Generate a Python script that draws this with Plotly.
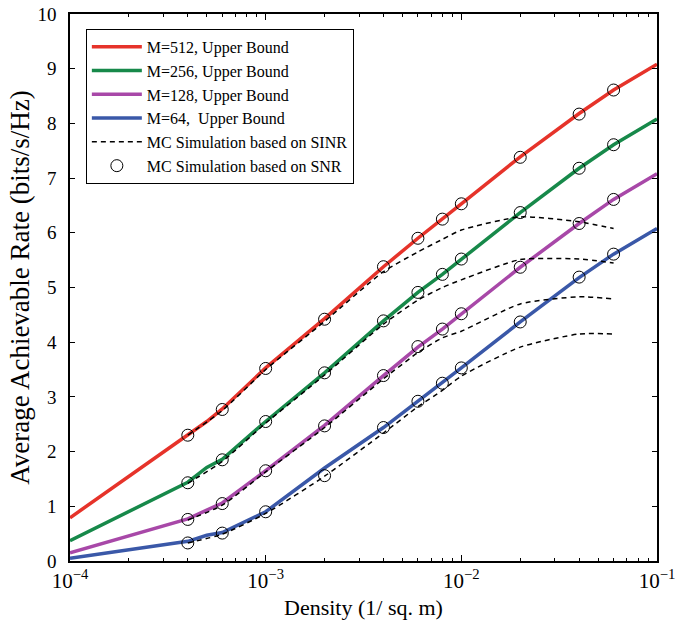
import plotly.graph_objects as go

# Upper-bound curves
x_ub = [1e-4, 4e-4, 5e-4, 6e-4, 1e-3, 2e-3, 4e-3, 6e-3, 8e-3, 1e-2, 2e-2, 4e-2, 6e-2, 1e-1]
ub_512 = [0.79, 2.30, 2.55, 2.78, 3.53, 4.43, 5.38, 5.90, 6.25, 6.53, 7.39, 8.18, 8.61, 9.08]
ub_256 = [0.37, 1.44, 1.71, 1.86, 2.55, 3.44, 4.39, 4.91, 5.24, 5.52, 6.37, 7.18, 7.61, 8.08]
ub_128 = [0.15, 0.77, 0.93, 1.06, 1.65, 2.48, 3.39, 3.91, 4.24, 4.52, 5.37, 6.17, 6.61, 7.08]
ub_64 = [0.05, 0.36, 0.47, 0.52, 0.90, 1.70, 2.44, 2.92, 3.25, 3.53, 4.37, 5.18, 5.61, 6.08]

# Monte-Carlo densities
x_mc = [4e-4, 6e-4, 1e-3, 2e-3, 4e-3, 6e-3, 8e-3, 1e-2, 2e-2, 4e-2, 6e-2]
# MC based on SNR (circles)
snr_512 = [2.30, 2.77, 3.52, 4.42, 5.38, 5.90, 6.25, 6.53, 7.38, 8.17, 8.61]
snr_256 = [1.43, 1.85, 2.55, 3.44, 4.39, 4.91, 5.24, 5.52, 6.37, 7.18, 7.61]
snr_128 = [0.76, 1.05, 1.65, 2.47, 3.39, 3.92, 4.24, 4.52, 5.37, 6.17, 6.61]
snr_64 = [0.33, 0.51, 0.90, 1.56, 2.44, 2.92, 3.25, 3.53, 4.37, 5.19, 5.61]
# MC based on SINR (dashed)
sinr_512 = [2.30, 2.75, 3.50, 4.38, 5.29, 5.65, 5.88, 6.05, 6.29, 6.20, 6.08]
sinr_256 = [1.42, 1.82, 2.52, 3.40, 4.33, 4.77, 5.00, 5.14, 5.51, 5.52, 5.45]
sinr_128 = [0.75, 1.02, 1.63, 2.44, 3.33, 3.81, 4.08, 4.20, 4.70, 4.83, 4.79]
sinr_64 = [0.33, 0.49, 0.87, 1.55, 2.34, 2.82, 3.12, 3.38, 3.91, 4.15, 4.15]

names = ["M=512, Upper Bound", "M=256, Upper Bound", "M=128, Upper Bound",
         "M=64,\u00a0 Upper Bound"]
colors = ["#E6332A", "#17894A", "#A848A8", "#3A58A8"]
ubs = [ub_512, ub_256, ub_128, ub_64]
snrs = [snr_512, snr_256, snr_128, snr_64]
sinrs = [sinr_512, sinr_256, sinr_128, sinr_64]

FONT = "Liberation Serif, Times New Roman, serif"

fig = go.Figure()
for nm, c, ub in zip(names, colors, ubs):
    fig.add_trace(go.Scatter(x=x_ub, y=ub, mode="lines", name=nm,
                             line=dict(color=c, width=3.5)))
for i, s in enumerate(sinrs):
    fig.add_trace(go.Scatter(x=x_mc, y=s, mode="lines",
                             name="MC Simulation based on SINR",
                             showlegend=(i == 0),
                             line=dict(color="black", width=1.5, dash="5px,4px",
                                       shape="spline", smoothing=0.6)))
for i, s in enumerate(snrs):
    fig.add_trace(go.Scatter(x=x_mc, y=s, mode="markers",
                             name="MC Simulation based on SNR",
                             showlegend=(i == 0),
                             marker=dict(symbol="circle-open", size=12,
                                         color="black", line=dict(width=1))))

minor_vals = [m * 10 ** e for e in (-4, -3, -2) for m in range(2, 10)]

fig.update_layout(
    width=676, height=623,
    margin=dict(l=70, r=19, t=14, b=62),
    paper_bgcolor="white", plot_bgcolor="white",
    font=dict(family=FONT, size=17, color="black"),
    showlegend=True,
    legend=dict(x=0.027, y=0.973, xanchor="left", yanchor="top",
                bgcolor="white", bordercolor="black", borderwidth=1,
                font=dict(family=FONT, size=16, color="black"),
                traceorder="normal", itemwidth=50, tracegroupgap=0),
    xaxis=dict(type="log", range=[-4, -1], automargin=False,
               tickvals=[1e-4, 1e-3, 1e-2, 1e-1],
               ticktext=["10<sup>\u22124</sup>", "10<sup>\u22123</sup>",
                         "10<sup>\u22122</sup>", "10<sup>\u22121</sup>"],
               ticks="inside", ticklen=6, tickcolor="black",
               minor=dict(tickvals=minor_vals, ticks="inside", ticklen=3,
                          tickcolor="black", showgrid=False),
               showline=True, linecolor="black", linewidth=1.5, mirror="ticks",
               showgrid=False, zeroline=False,
               title=dict(text="Density (1/ sq. m)", font=dict(size=22), standoff=8),
               tickfont=dict(size=21)),
    yaxis=dict(range=[0, 10], tickvals=list(range(0, 11)), automargin=False,
               ticks="inside", ticklen=5, tickcolor="black",
               showline=True, linecolor="black", linewidth=1.5, mirror="ticks",
               showgrid=False, zeroline=False, ticklabelstandoff=8,
               title=dict(text="Average Achievable Rate (bits/s/Hz)",
                          font=dict(size=27), standoff=0),
               tickfont=dict(size=19)),
)

fig.write_html("out.html",
               config={"displayModeBar": False},
               post_script="document.body.style.margin='0px';"
                           "document.body.style.overflow='hidden';")
